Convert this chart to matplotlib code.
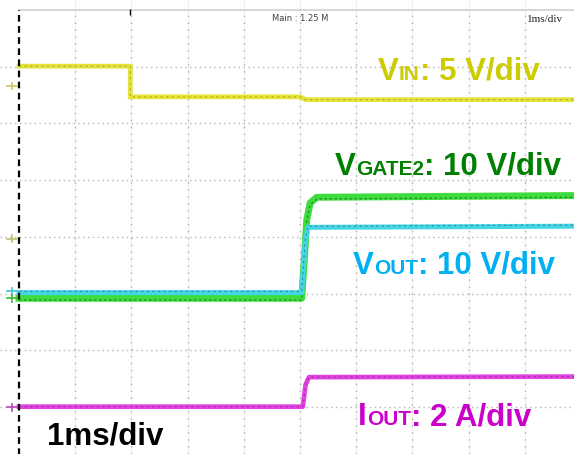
import matplotlib
matplotlib.use('Agg')
import matplotlib.pyplot as plt
import matplotlib.transforms as mtransforms

plt.rcParams['font.family'] = ['Liberation Sans', 'DejaVu Sans']

#%% trace data (time in ms = divisions, level in screen divisions)
t_vin = [0.0, 1.98, 1.98, 5.00, 5.10, 9.9]
v_vin = [7.01, 7.01, 6.47, 6.47, 6.42, 6.42]

t_gate = [0.0, 5.03, 5.08, 5.12, 5.18, 5.30, 9.9]
v_gate = [2.92, 2.92, 3.65, 4.30, 4.60, 4.70, 4.73]

t_out = [0.0, 5.03, 5.09, 5.14, 9.9]
v_out = [3.02, 3.02, 3.90, 4.17, 4.19]

t_iout = [0.0, 5.05, 5.10, 5.16, 9.9]
v_iout = [1.01, 1.01, 1.40, 1.53, 1.54]

grid_x = [1, 2, 3, 4, 5, 6, 7, 8, 9]
grid_y = [1, 2, 3, 4, 5, 6, 7]

#%% figure
fig = plt.figure(figsize=(5.74, 4.54), dpi=100)
ax = fig.add_axes([0, 0, 1, 1])
ax.set_xlim(-0.338, 9.875)
ax.set_ylim(0.176, 8.176)
ax.axis('off')

# grid
for gx in grid_x:
    ax.axvline(gx, color='#f3f3f3', lw=1, zorder=0)
    ax.axvline(gx, ymax=0.978, color='#b0b0b0', lw=1, ls=(0, (1, 4)), zorder=1)
for gy in grid_y:
    ax.axhline(gy, color='#b4b4b4', lw=1, ls=(0, (1, 2.5)), zorder=1)
ax.plot([0, 9.9], [8, 8], color='#d0d0d0', lw=1.2, zorder=1)
ax.plot([0, 0], [0.1, 8], color='black', lw=1.6, ls=(0, (3, 2)), zorder=5)
ax.plot([1.98], [7.97], marker='|', color='black', ms=4, zorder=5)

# traces
ax.plot(t_vin, v_vin, color='#e3e33a', lw=3.4, solid_joinstyle='miter', zorder=3)
ax.plot(t_vin, v_vin, color='#9a9a10', lw=0.8, ls=(0, (2, 3)), alpha=0.7, zorder=3)

ax.plot(t_gate, v_gate, color='#3fdc3f', lw=5.0, zorder=3)
ax.plot(t_gate, [v - 0.03 for v in v_gate], color='#0f6e0f', lw=0.9, ls=(0, (2, 2)), alpha=0.7, zorder=3)

ax.plot(t_out, v_out, color='#45d6e6', lw=3.6, zorder=4)
ax.plot(t_out, [v + 0.02 for v in v_out], color='#1f6f80', lw=0.8, ls=(0, (2, 3)), alpha=0.7, zorder=4)

ax.plot(t_iout, v_iout, color='#e044e0', lw=3.4, zorder=3)
ax.plot(t_iout, v_iout, color='#8e108e', lw=0.8, ls=(0, (2, 3)), alpha=0.6, zorder=3)

# ground markers on the left edge
markers = [(6.66, '#c8c860'), (3.97, '#c0c070'), (3.04, '#40c8d8'), (2.92, '#30c030'), (1.0, '#c040c0')]
for my, mc in markers:
    ax.plot([-0.22, -0.03], [my, my], color=mc, lw=1.2, zorder=5)
    ax.plot([-0.12, -0.12], [my - 0.06, my + 0.06], color=mc, lw=1.2, zorder=5)

# small scope texts
ax.text(4.50, 7.81, 'Main : 1.25 M', fontsize=6, color='#404040', family='DejaVu Sans')
ax.text(9.04, 7.78, '1ms/div', fontsize=8, color='#202020', family='Liberation Serif')

#%% labels with small-caps subscripts
renderer = fig.canvas.get_renderer()


def label(x, y, parts, color):
    dx = 0.0
    for s, size in parts:
        tr = mtransforms.offset_copy(ax.transData, fig=fig, x=dx, y=0, units='dots')
        t = ax.text(x, y, s, fontsize=size, fontweight='bold', color=color,
                    va='baseline', ha='left', transform=tr, zorder=6)
        dx += t.get_window_extent(renderer).width


big, small = 22.5, 15
label(6.388, 6.767, [('V', big), ('IN', small), (': 5 V/div', big)], '#cccc00')
label(5.623, 5.093, [('V', big), ('GATE2', small), (': 10 V/div', big)], '#008000')
label(5.943, 3.348, [('V', big), ('OUT', small), (': 10 V/div', big)], '#00b0f0')
label(6.032, 0.687, [('I', big), ('OUT', small), (': 2 A/div', big)], '#cc00cc')
ax.text(0.498, 0.335, '1ms/div', fontsize=big, fontweight='bold', color='black',
        va='baseline', zorder=6)

fig.savefig('out.png', dpi=100)
